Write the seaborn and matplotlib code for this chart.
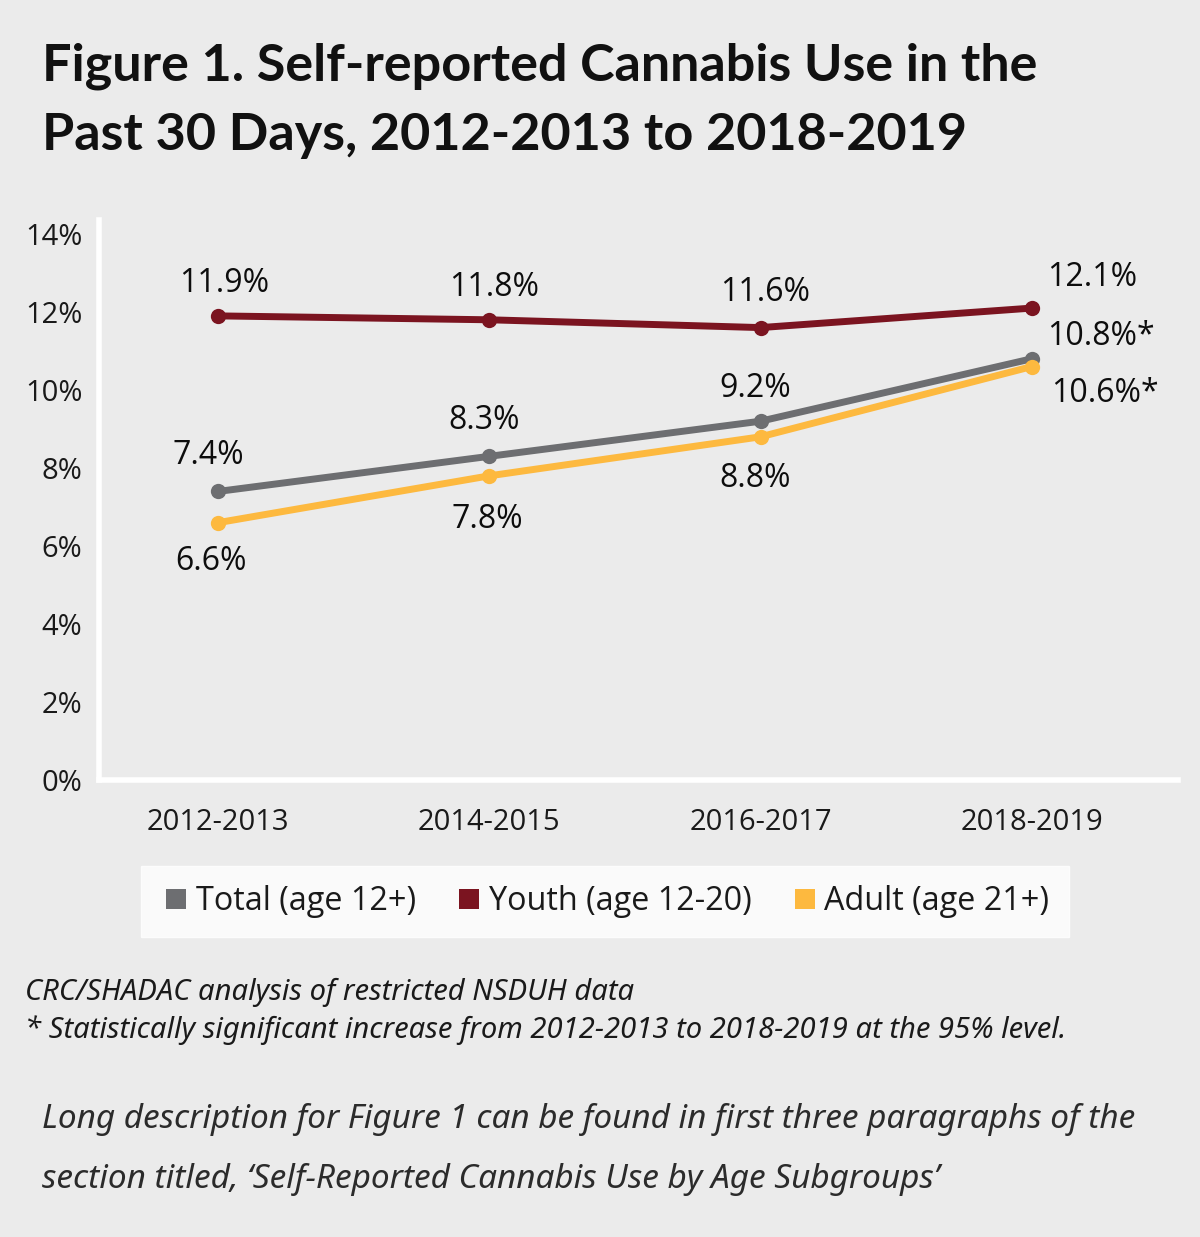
import matplotlib
matplotlib.use("Agg")
import matplotlib.pyplot as plt
import seaborn as sns
import pandas as pd
from matplotlib.lines import Line2D

# ---- data ----
periods = ["2012-2013", "2014-2015", "2016-2017", "2018-2019"]
total = [7.4, 8.3, 9.2, 10.8]
youth = [11.9, 11.8, 11.6, 12.1]
adult = [6.6, 7.8, 8.8, 10.6]
series_names = ["Total (age 12+)", "Youth (age 12-20)", "Adult (age 21+)"]
total_labels = ["7.4%", "8.3%", "9.2%", "10.8%*"]
youth_labels = ["11.9%", "11.8%", "11.6%", "12.1%"]
adult_labels = ["6.6%", "7.8%", "8.8%", "10.6%*"]
y_ticks = [0, 2, 4, 6, 8, 10, 12, 14]
y_tick_labels = ["0%", "2%", "4%", "6%", "8%", "10%", "12%", "14%"]

colors = {"Total (age 12+)": "#6d6e71",
          "Youth (age 12-20)": "#7b1420",
          "Adult (age 21+)": "#fdb93f"}
BG = "#ebebeb"

sns.set_style("white", {"axes.facecolor": BG, "figure.facecolor": BG})
plt.rcParams["font.family"] = ["Open Sans", "DejaVu Sans"]

df = pd.DataFrame({
    "period": periods * 3,
    "value": total + youth + adult,
    "series": [series_names[0]] * 4 + [series_names[1]] * 4 + [series_names[2]] * 4,
})

fig = plt.figure(figsize=(12, 12.37), dpi=100)
fig.patch.set_facecolor(BG)
ax = fig.add_axes([0.0825, 0.3694, 0.8992, 0.4528])
ax.set_facecolor(BG)

sns.lineplot(data=df, x="period", y="value", hue="series", palette=colors,
             hue_order=[series_names[1], series_names[0], series_names[2]],
             marker="o", markersize=11, markeredgewidth=0, linewidth=5,
             legend=False, ax=ax, sort=False)

ax.set_xlim(-0.44, 3.54)
ax.set_ylim(0, 14.36)
ax.set_yticks(y_ticks)
ax.set_yticklabels(y_tick_labels)
ax.set_xlabel("")
ax.set_ylabel("")
ax.tick_params(axis="y", length=0, pad=12, labelsize=21, labelcolor="#1a1a1a")
ax.tick_params(axis="x", length=0, pad=20, labelsize=21, labelcolor="#1a1a1a")
for side in ["top", "right"]:
    ax.spines[side].set_visible(False)
for side in ["left", "bottom"]:
    ax.spines[side].set_color("white")
    ax.spines[side].set_linewidth(4)
ax.grid(False)

# data labels (offsets in points)
k = 0.72
youth_off = [(6, 32), (5, 32), (5, 35), (61, 31)]
total_off = [(-10, 36), (-5, 36), (-5, 33), (69, 22)]
adult_off = [(-7, -39), (-2, -44), (-5, -42), (73, -27)]
for vals, labs, offs in [(youth, youth_labels, youth_off),
                         (total, total_labels, total_off),
                         (adult, adult_labels, adult_off)]:
    for i, (v, lab, off) in enumerate(zip(vals, labs, offs)):
        ax.annotate(lab, (i, v), xytext=(off[0] * k, off[1] * k),
                    textcoords="offset points", ha="center", va="center",
                    fontsize=23, color="#0d0d0d")

# legend
handles = [Line2D([0], [0], marker="s", linestyle="", markersize=14,
                  markerfacecolor=colors[n], markeredgewidth=0) for n in series_names]
leg = fig.legend(handles, series_names, loc="center", bbox_to_anchor=(0.504, 0.2712),
                 ncol=3, fontsize=23.3, frameon=True, fancybox=False,
                 handletextpad=0.1, columnspacing=1.15, handlelength=1.0,
                 borderpad=0.6, borderaxespad=0)
leg.get_frame().set_facecolor("white")
leg.get_frame().set_edgecolor("white")
for t in leg.get_texts():
    t.set_color("#1a1a1a")

# title
fig.text(42 / 1200, 1 - 81 / 1237, "Figure 1. Self-reported Cannabis Use in the",
         fontsize=37.5, fontweight="bold", family=["Lato", "DejaVu Sans"],
         ha="left", va="baseline", color="#111111")
fig.text(42 / 1200, 1 - 150 / 1237, "Past 30 Days, 2012-2013 to 2018-2019",
         fontsize=37.5, fontweight="bold", family=["Lato", "DejaVu Sans"],
         ha="left", va="baseline", color="#111111")

# footnotes
fig.text(25 / 1200, 1 - 1000 / 1237, "CRC/SHADAC analysis of restricted NSDUH data",
         fontsize=21, style="italic", family=["Noto Sans", "DejaVu Sans"],
         ha="left", va="baseline", color="#1a1a1a")
fig.text(25 / 1200, 1 - 1038 / 1237,
         "* Statistically significant increase from 2012-2013 to 2018-2019 at the 95% level.",
         fontsize=21, style="italic", family=["Noto Sans", "DejaVu Sans"],
         ha="left", va="baseline", color="#1a1a1a")
fig.text(42 / 1200, 1 - 1128 / 1237,
         "Long description for Figure 1 can be found in first three paragraphs of the",
         fontsize=24, style="italic", family=["Noto Sans", "DejaVu Sans"],
         ha="left", va="baseline", color="#2b2b2b")
fig.text(42 / 1200, 1 - 1188 / 1237,
         "section titled, \u2018Self-Reported Cannabis Use by Age Subgroups\u2019",
         fontsize=24, style="italic", family=["Noto Sans", "DejaVu Sans"],
         ha="left", va="baseline", color="#2b2b2b")

fig.savefig("out.png", dpi=100, facecolor=BG)
